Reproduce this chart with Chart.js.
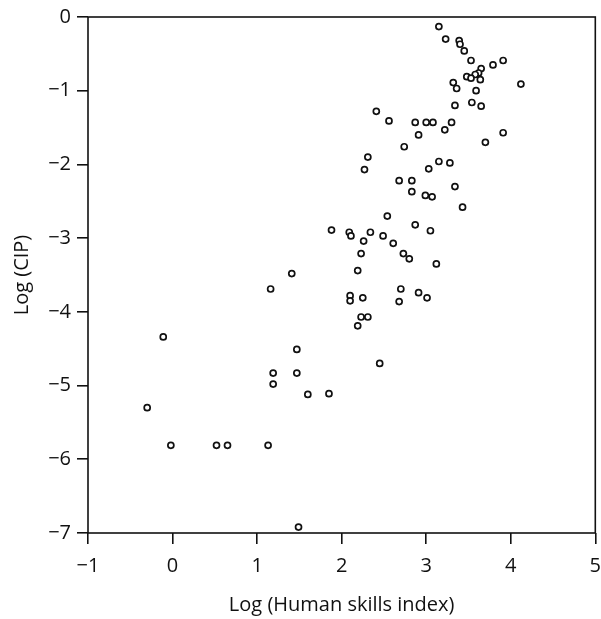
<!DOCTYPE html>
<html>
<head>
<meta charset="utf-8">
<script src="https://cdn.jsdelivr.net/npm/chart.js@4"></script>
<style>
  html, body { margin: 0; padding: 0; background: #fff; }
  #wrap { width: 601px; height: 619px; }
</style>
</head>
<body>
<div id="wrap"><canvas id="scatter" width="601" height="619"></canvas></div>
<script>
// Log (Human skills index) values
const skillsLog = [
    3.15, 3.23, 3.39, 3.40, 3.45, 3.53, 3.79, 3.91, 3.65, 3.62,
    3.58, 3.48, 3.53, 3.64, 4.12, 3.32, 3.36, 3.59, 3.54, 3.65,
    3.34, 2.41, 2.56, 2.87, 3.00, 3.08, 3.30, 3.22, 2.91, 3.91,
    3.70, 2.74, 3.15, 3.28, 3.03, 2.31, 2.27, 2.68, 2.83, 3.34,
    2.83, 2.99, 3.07, 3.43, 2.54, 2.87, 3.05, 1.88, 2.09, 2.11,
    2.34, 2.49, 2.26, 2.61, 2.23, 2.73, 2.80, 3.12, 2.19, 1.41,
    1.16, 2.70, 2.91, 3.01, 2.68, 2.10, 2.10, 2.25, 2.23, 2.31,
    2.19, -0.11, 1.47, 2.45, 1.19, 1.47, 1.19, 1.60, 1.85, -0.30,
    -0.02, 0.52, 0.65, 1.13, 1.49
];
// Log (CIP) values
const cipLog = [
    -0.13, -0.30, -0.32, -0.37, -0.46, -0.59, -0.65, -0.59, -0.70, -0.76,
    -0.78, -0.81, -0.83, -0.85, -0.91, -0.89, -0.97, -1.00, -1.16, -1.21,
    -1.20, -1.28, -1.41, -1.43, -1.43, -1.43, -1.43, -1.53, -1.60, -1.57,
    -1.70, -1.76, -1.96, -1.98, -2.06, -1.90, -2.07, -2.22, -2.22, -2.30,
    -2.37, -2.42, -2.44, -2.58, -2.70, -2.82, -2.90, -2.89, -2.92, -2.97,
    -2.92, -2.97, -3.04, -3.07, -3.21, -3.21, -3.28, -3.35, -3.44, -3.48,
    -3.69, -3.69, -3.74, -3.81, -3.86, -3.78, -3.85, -3.81, -4.07, -4.07,
    -4.19, -4.34, -4.51, -4.70, -4.83, -4.83, -4.98, -5.12, -5.11, -5.30,
    -5.81, -5.81, -5.81, -5.81, -6.92
];
const xTicks = [-1, 0, 1, 2, 3, 4, 5];
const yTicks = [0, -1, -2, -3, -4, -5, -6, -7];

const points = skillsLog.map((x, i) => ({ x: x, y: cipLog[i] }));

const fontFamily = '"Open Sans", "DejaVu Sans", sans-serif';
const ink = '#111';

// box round the plot area
const frame = {
    id: 'frame',
    afterDraw(chart) {
        const a = chart.chartArea;
        const ctx = chart.ctx;
        ctx.save();
        ctx.strokeStyle = ink;
        ctx.lineWidth = 1.6;
        ctx.strokeRect(a.left, a.top, a.right - a.left, a.bottom - a.top);
        ctx.restore();
    }
};

function minus(v) {
    return v < 0 ? '\u2212' + Math.abs(v) : String(v);
}

new Chart(document.getElementById('scatter').getContext('2d'), {
    type: 'scatter',
    data: {
        datasets: [{
            data: points,
            pointStyle: 'circle',
            pointRadius: 3,
            pointBorderWidth: 1.7,
            pointBorderColor: ink,
            pointBackgroundColor: '#fff'
        }]
    },
    options: {
        responsive: false,
        animation: false,
        layout: { padding: { top: 17, right: 5, left: 0, bottom: 0 } },
        plugins: {
            legend: { display: false },
            tooltip: { enabled: false }
        },
        scales: {
            x: {
                type: 'linear',
                min: -1,
                max: 5,
                afterBuildTicks: scale => { scale.ticks = xTicks.map(v => ({ value: v })); },
                afterFit: scale => {
                    scale.height = 86;
                    scale.paddingLeft = 0;
                    scale.paddingRight = 0;
                },
                grid: { drawOnChartArea: false, drawTicks: true, tickLength: 11, color: ink, lineWidth: 1.6 },
                border: { display: false },
                ticks: {
                    padding: 10,
                    color: ink,
                    font: { family: fontFamily, size: 20 },
                    callback: v => minus(v)
                },
                title: {
                    display: true,
                    text: 'Log (Human skills index)',
                    color: ink,
                    font: { family: fontFamily, size: 20 },
                    padding: { bottom: 2 }
                }
            },
            y: {
                type: 'linear',
                min: -7,
                max: 0,
                afterBuildTicks: scale => { scale.ticks = yTicks.map(v => ({ value: v })); },
                afterFit: scale => {
                    scale.width = 88;
                    scale.paddingTop = 0;
                    scale.paddingBottom = 0;
                },
                grid: { drawOnChartArea: false, drawTicks: true, tickLength: 11, color: ink, lineWidth: 1.6 },
                border: { display: false },
                ticks: {
                    padding: 6,
                    color: ink,
                    font: { family: fontFamily, size: 20 },
                    callback: v => minus(v)
                },
                title: {
                    display: true,
                    text: 'Log (CIP)',
                    color: ink,
                    font: { family: fontFamily, size: 20 },
                    padding: { top: 10 }
                }
            }
        }
    },
    plugins: [frame]
});
</script>
</body>
</html>
